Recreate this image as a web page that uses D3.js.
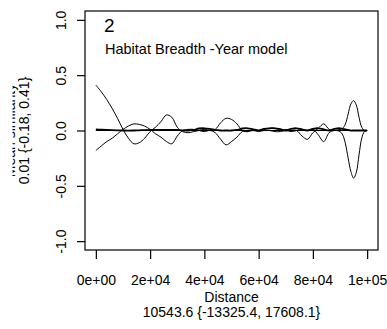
<!DOCTYPE html>
<html><head><meta charset="utf-8">
<script src="https://cdn.jsdelivr.net/npm/d3@7"></script>
<style>body{margin:0;background:#fff}svg{display:block}text{font-family:"Liberation Sans",Arial,sans-serif;fill:#000}</style>
</head><body>
<svg id="c" width="387" height="329"></svg>
<script>
const distance = [0,2000,4000,6000,8000,10000,12000,14000,16000,18000,20000,22000,24000,26000,28000,30000,32000,34000,36000,38000,40000,42000,44000,46000,48000,50000,52000,54000,56000,58000,60000,62000,64000,66000,68000,70000,72000,74000,76000,78000,80000,82000,84000,86000,88000,90000,91000,92000,93000,94000,95000,96000,97000,98000,99000,100000];
const upperCI = [0.41,0.35,0.28,0.20,0.11,0.01,-0.07,-0.12,-0.11,-0.07,-0.01,0.03,0.08,0.14,0.12,0.03,-0.01,-0.02,-0.01,0.0,0.01,0.0,0.01,0.07,0.11,0.10,0.06,0.0,-0.01,0.01,0.0,0.01,0.02,0.02,0.0,0.01,0.0,0.0,-0.05,-0.08,-0.02,0.02,0.06,0.01,0.0,0.01,0.02,0.06,0.15,0.24,0.27,0.23,0.12,0.03,0.0,0.0];
const lowerCI = [-0.18,-0.14,-0.10,-0.07,-0.03,0.01,0.04,0.06,0.055,0.04,0.01,-0.03,-0.06,-0.10,-0.12,-0.05,0.0,0.01,0.01,0.0,-0.01,0.0,-0.02,-0.08,-0.13,-0.10,-0.06,-0.01,-0.01,0.0,-0.01,0.0,0.0,-0.01,-0.01,0.0,-0.01,0.0,0.01,0.0,0.01,-0.04,-0.10,-0.02,0.0,-0.01,-0.04,-0.12,-0.25,-0.37,-0.43,-0.38,-0.22,-0.07,-0.01,0.0];
const meanFit = [0.01,0.008,0.006,0.004,0.002,0.0,-0.001,0.0,0.002,0.004,0.005,0.005,0.005,0.005,0.005,0.005,0.0,0.0,0.005,0.018,0.02,0.015,0.005,0.0,0.0,0.0,0.005,0.018,0.02,0.01,0.002,0.015,0.02,0.02,0.012,0.0,0.015,0.02,0.01,0.0,0.015,0.02,0.01,0.0,0.015,0.02,0.015,0.01,0.005,0.0,0.0,0.0,0.0,0.0,0.0,0.0];
const xTicks = [0,20000,40000,60000,80000,100000];
const xTickLabels = ["0e+00","2e+04","4e+04","6e+04","8e+04","1e+05"];
const yTicks = [-1.0,-0.5,0.0,0.5,1.0];
const yTickLabels = ["-1.0","-0.5","0.0","0.5","1.0"];
const panelNumber = "2";
const panelTitle = "Habitat Breadth -Year model";
const xTitle = "Distance";
const xIntercept = "10543.6 {-13325.4, 17608.1}";
const yTitle = "Mean similarity";
const yIntercept = "0.01 {-0.18, 0.41}";

const svg = d3.select("#c");
const L=85,R=378,T=11,B=250;
const x = d3.scaleLinear().domain([-4000,104000]).range([L,R]);
const y = d3.scaleLinear().domain([-1.08,1.08]).range([B,T]);
const fs = 14;

svg.append("defs").append("clipPath").attr("id","pc").append("rect").attr("x",L).attr("y",T).attr("width",R-L).attr("height",B-T);
svg.append("defs").append("clipPath").attr("id","lc").append("rect").attr("x",12.5).attr("y",0).attr("width",30).attr("height",329);

const g = svg.append("g").attr("clip-path","url(#pc)");
const line = d3.line().x((d,i)=>x(distance[i])).y(d=>y(d)).curve(d3.curveCatmullRom);
g.append("path").attr("d", d3.line()([[x(0),y(0)],[x(100000),y(0)]])).attr("stroke","#000").attr("stroke-width",1.2).attr("fill","none");
g.append("path").attr("d", line(meanFit)).attr("stroke","#000").attr("stroke-width",1.8).attr("fill","none");
g.append("path").attr("d", line(upperCI)).attr("stroke","#000").attr("stroke-width",1).attr("fill","none");
g.append("path").attr("d", line(lowerCI)).attr("stroke","#000").attr("stroke-width",1).attr("fill","none");

svg.append("rect").attr("x",L).attr("y",T).attr("width",R-L).attr("height",B-T).attr("fill","none").attr("stroke","#000").attr("stroke-width",1.2);

const xa = d3.axisBottom(x).tickValues(xTicks).tickFormat((d,i)=>xTickLabels[i]).tickSize(9);
const gx = svg.append("g").attr("transform",`translate(0,${B})`).call(xa);
gx.select(".domain").remove();
gx.selectAll("line").attr("stroke","#000").attr("stroke-width",1.2);
gx.selectAll("text").attr("font-size",fs).attr("font-family","Liberation Sans, Arial, sans-serif").attr("dy",null).attr("y",35);

const ya = d3.axisLeft(y).tickValues(yTicks).tickFormat((d,i)=>yTickLabels[i]).tickSize(8);
const gy = svg.append("g").attr("transform",`translate(${L},0)`).call(ya);
gy.select(".domain").remove();
gy.selectAll("line").attr("stroke","#000").attr("stroke-width",1.2);
gy.selectAll("text").attr("font-size",fs).attr("font-family","Liberation Sans, Arial, sans-serif")
  .attr("x",null).attr("dy",null).attr("text-anchor","middle")
  .attr("transform","translate(-19,0) rotate(-90)");

svg.append("text").attr("x",104).attr("y",32).attr("font-size",19).text(panelNumber);
svg.append("text").attr("x",105).attr("y",54).attr("font-size",14.5).text(panelTitle);
svg.append("text").attr("x",(x(0)+x(100000))/2).attr("y",302).attr("text-anchor","middle").attr("font-size",fs).text(xTitle);
svg.append("text").attr("x",(x(0)+x(100000))/2).attr("y",317).attr("text-anchor","middle").attr("font-size",fs).text(xIntercept);
svg.append("text").attr("transform",`translate(29,${(T+B)/2}) rotate(-90)`).attr("text-anchor","middle").attr("font-size",fs).text(yIntercept);
svg.append("g").attr("clip-path","url(#lc)").append("text").attr("transform",`translate(15,${(T+B)/2}) rotate(-90)`).attr("text-anchor","middle").attr("font-size",fs).text(yTitle);
</script>
</body></html>
